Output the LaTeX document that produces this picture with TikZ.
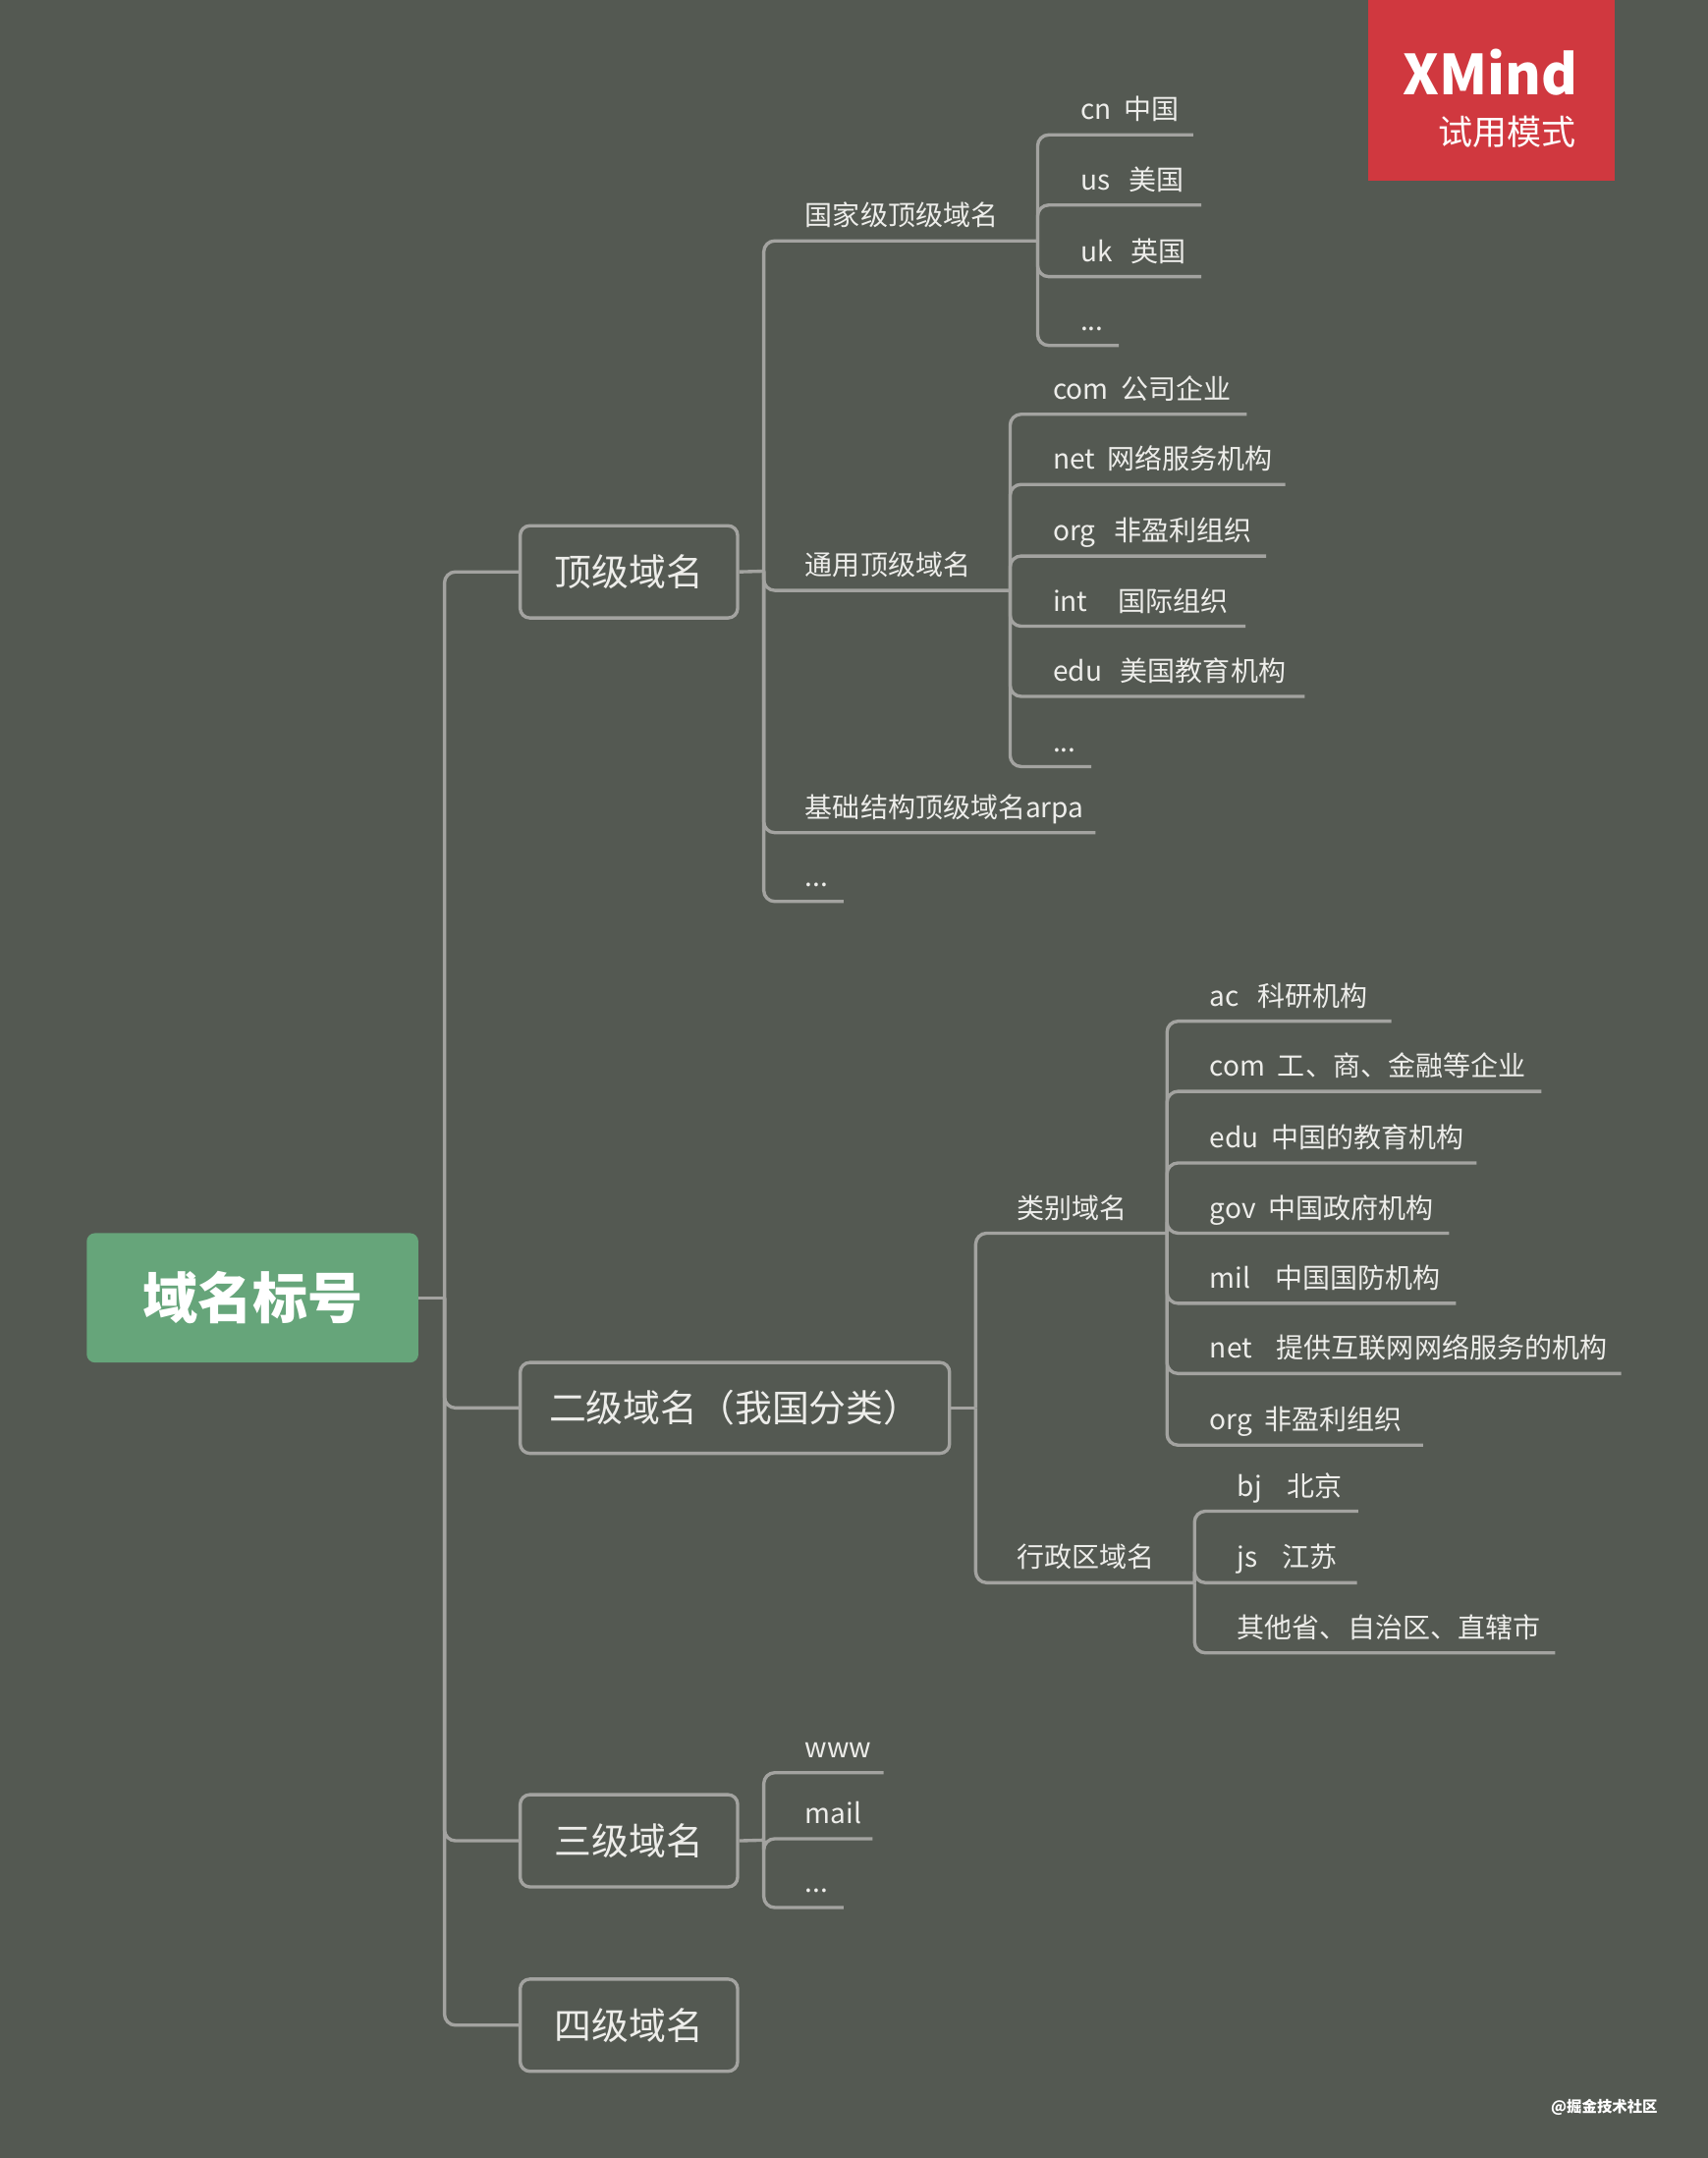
\documentclass[tikz,border=0pt]{standalone}
\usepackage{fontspec}
\setmainfont{Noto Sans CJK SC}
\definecolor{bg}{HTML}{545952}
\definecolor{ln}{HTML}{A3A3A0}
\definecolor{tx}{HTML}{EDEDEA}
\definecolor{rootc}{HTML}{66A57A}
\definecolor{xm}{HTML}{D0383F}
\tikzset{br/.style={draw=ln,line width=2.4pt,rounded corners=8pt},
 lt/.style={anchor=base west,inner sep=0pt,text=tx,font=\fontsize{20}{20}\selectfont},
 box/.style={draw=ln,line width=2.4pt,rounded corners=7pt,text=tx,font=\fontsize{27}{27}\selectfont,inner sep=0pt}}
\newcommand\lf[6]{\node[lt] (#1) at (#3,{#4-11}) {#6}; \coordinate (#1e) at (#5,#4); \draw[br] (#2) |- (#1e);}
\begin{document}
\begin{tikzpicture}[x=1pt,y=-1pt]
\fill[bg] (0,0) rectangle (1241,1568);
\useasboundingbox (0,0) rectangle (1241,1568);
% XMind
\fill[xm] (994,0) rectangle (1173,131);
\node[text=white,font=\bfseries\fontsize{40}{40}\selectfont,anchor=base east] (xmt) at (1150,69) {XMind};
\node[text=white,font=\fontsize{25}{25}\selectfont,anchor=base east] (xms) at (1149,105) {试用模式};
% root
\node[fill=rootc,rounded corners=6pt,minimum width=241pt,minimum height=94pt,text=white,font=\bfseries\fontsize{40}{40}\selectfont] (root) at (183.5,943) {域名标号};
\node[box,minimum width=158pt,minimum height=67pt] (b1) at (457,415.5) {顶级域名};
\node[box,minimum width=312pt,minimum height=66pt] (b2) at (534,1023) {二级域名（我国分类）};
\node[box,minimum width=158pt,minimum height=67pt] (b3) at (457,1337.5) {三级域名};
\node[box,minimum width=158pt,minimum height=67pt] (b4) at (457,1471.5) {四级域名};
\coordinate (t0) at (323,943);
\draw[br] (root.east) -- (t0);
\draw[br] (t0) |- (b1.west);
\draw[br] (t0) |- (b2.west);
\draw[br] (t0) |- (b3.west);
\draw[br] (t0) |- (b4.west);
% top level
\coordinate (j1) at (555,415); \draw[br] (b1.east) -- (j1);
\lf{g1}{j1}{585}{175}{754}{国家级顶级域名}
\lf{g2}{j1}{585}{429}{734}{通用顶级域名}
\lf{g3}{j1}{585}{605}{796}{基础结构顶级域名arpa}
\lf{g4}{j1}{585}{655}{613}{...}
\coordinate (j2) at (754,175);
\lf{c1}{j2}{785}{98}{867}{cn~~中国}
\lf{c2}{j2}{785}{149}{873}{us~~~美国}
\lf{c3}{j2}{785}{201}{873}{uk~~~英国}
\lf{c4}{j2}{785}{251}{813}{...}
\coordinate (j3) at (734,429);
\lf{d1}{j3}{765}{301}{906}{com~~公司企业}
\lf{d2}{j3}{765}{352}{934}{net~~网络服务机构}
\lf{d3}{j3}{765}{404}{920}{org~~~非盈利组织}
\lf{d4}{j3}{765}{455}{905}{int~~~~~国际组织}
\lf{d5}{j3}{765}{506}{948}{edu~~~美国教育机构}
\lf{d6}{j3}{765}{557}{793}{...}
% second level
\coordinate (j4) at (709,1023); \draw[br] (b2.east) -- (j4);
\lf{h1}{j4}{739}{896}{848}{类别域名}
\lf{h2}{j4}{739}{1150}{868}{行政区域名}
\coordinate (j5) at (848,896);
\lf{e1}{j5}{879}{742}{1011}{ac~~~科研机构}
\lf{e2}{j5}{879}{793}{1120}{com~~工、商、金融等企业}
\lf{e3}{j5}{879}{845}{1073}{edu~~中国的教育机构}
\lf{e4}{j5}{879}{896}{1053}{gov~~中国政府机构}
\lf{e5}{j5}{879}{947}{1058}{mil~~~~中国国防机构}
\lf{e6}{j5}{879}{998}{1178}{net~~~~提供互联网网络服务的机构}
\lf{e7}{j5}{879}{1050}{1034}{org~~非盈利组织}
\coordinate (j6) at (868,1150);
\lf{f1}{j6}{899}{1098}{987}{bj~~~~北京}
\lf{f2}{j6}{899}{1150}{986}{js~~~~江苏}
\lf{f3}{j6}{899}{1201}{1130}{其他省、自治区、直辖市}
% third level
\coordinate (j7) at (555,1337); \draw[br] (b3.east) -- (j7);
\lf{w1}{j7}{585}{1288}{642}{www}
\lf{w2}{j7}{585}{1336}{634}{mail}
\lf{w3}{j7}{585}{1386}{613}{...}
\node[text=white,font=\bfseries\fontsize{11}{11}\selectfont,anchor=base east] (wm) at (1208,1535) {@掘金技术社区};
\end{tikzpicture}
\end{document}
